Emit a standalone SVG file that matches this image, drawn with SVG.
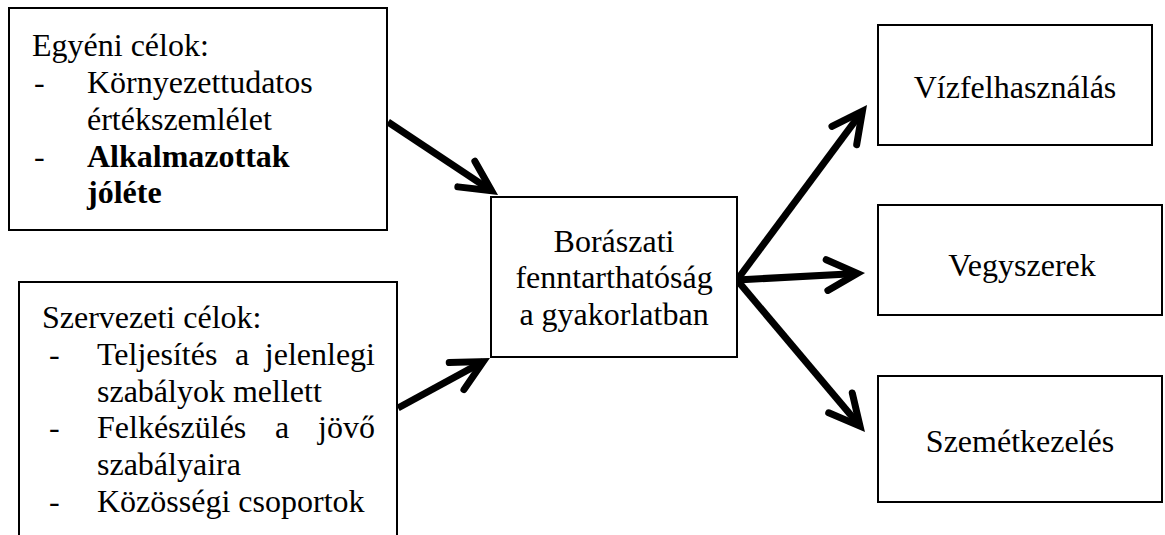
<svg xmlns="http://www.w3.org/2000/svg" width="1165" height="535" viewBox="0 0 1165 535">
<style>
.box{fill:#fff;stroke:#000;stroke-width:2}
.t{font-family:"Liberation Serif","Times New Roman",serif;font-size:32px;fill:#000}
.c{text-anchor:middle}
.b{font-weight:bold}
.con{fill:none;stroke:#000;stroke-width:7;stroke-linecap:butt}
</style>
<defs>
<marker id="ah" markerUnits="userSpaceOnUse" markerWidth="60" markerHeight="60" viewBox="-40 -25 60 50" refX="0" refY="0" orient="auto" overflow="visible">
<path d="M-30.3,-15.4 L0,0 L-30.3,15.4" fill="none" stroke="#000" stroke-width="7" stroke-linecap="round" stroke-linejoin="miter"/>
</marker>
</defs>
<rect width="1165" height="535" fill="#fff"/>
<g id="connectors">
<path class="con" d="M388,122 L491.6,190.8" marker-end="url(#ah)"/>
<path class="con" d="M398,408 L483.2,361.6" marker-end="url(#ah)"/>
<path class="con" d="M737,280 L862.4,111.2" marker-end="url(#ah)"/>
<path class="con" d="M737,280 L857.3,273.4" marker-end="url(#ah)"/>
<path class="con" d="M737,280 L860,426.1" marker-end="url(#ah)"/>
</g>
<g id="egyeni">
<rect class="box" x="9" y="8" width="378" height="222"/>
<text class="t" x="32" y="56">Egyéni célok:</text>
<text class="t" x="34" y="93">-</text>
<text class="t" x="87" y="93">Környezettudatos</text>
<text class="t" x="87" y="130">értékszemlélet</text>
<text class="t" x="34" y="167">-</text>
<text class="t b" x="87" y="167">Alkalmazottak</text>
<text class="t b" x="87" y="203">jóléte</text>
</g>
<g id="szervezeti">
<rect class="box" x="19" y="282" width="378" height="290"/>
<text class="t" x="42" y="328">Szervezeti célok:</text>
<text class="t" x="49" y="365">-</text>
<text class="t" x="97" y="365">Teljesítés</text>
<text class="t" x="235" y="365">a</text>
<text class="t" x="375" y="365" text-anchor="end">jelenlegi</text>
<text class="t" x="97" y="402">szabályok mellett</text>
<text class="t" x="49" y="438">-</text>
<text class="t" x="97" y="438">Felkészülés</text>
<text class="t" x="275" y="438">a</text>
<text class="t" x="375" y="438" text-anchor="end">jövő</text>
<text class="t" x="97" y="475">szabályaira</text>
<text class="t" x="49" y="512">-</text>
<text class="t" x="97" y="512">Közösségi csoportok</text>
</g>
<g id="boraszati">
<rect class="box" x="491" y="197" width="246" height="160"/>
<text class="t c" x="614" y="252">Borászati</text>
<text class="t c" x="614" y="288">fenntarthatóság</text>
<text class="t c" x="614" y="325">a gyakorlatban</text>
</g>
<g id="vizfelhasznalas">
<rect class="box" x="878" y="25" width="274" height="120"/>
<text class="t c" x="1015" y="98">Vízfelhasználás</text>
</g>
<g id="vegyszerek">
<rect class="box" x="878" y="205" width="284" height="110"/>
<text class="t c" x="1022" y="276">Vegyszerek</text>
</g>
<g id="szemetkezeles">
<rect class="box" x="878" y="376" width="284" height="126"/>
<text class="t c" x="1020" y="452">Szemétkezelés</text>
</g>
</svg>
